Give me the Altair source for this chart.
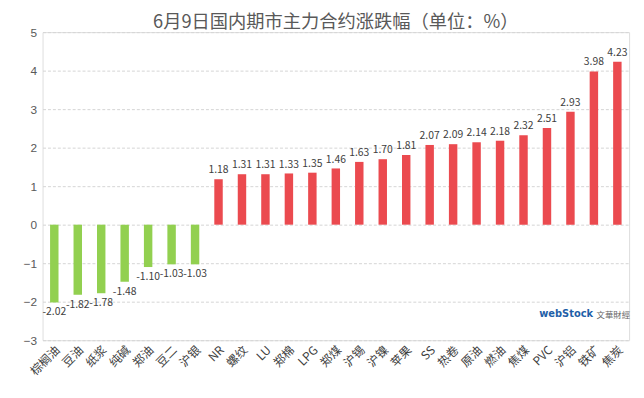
import altair as alt
import pandas as pd

categories = ["棕榈油", "豆油", "纸浆", "纯碱", "郑油", "豆二", "沪银", "NR", "螺纹", "LU",
              "郑棉", "LPG", "郑煤", "沪锡", "沪镍", "苹果", "SS", "热卷", "原油", "燃油",
              "焦煤", "PVC", "沪铝", "铁矿", "焦炭"]
values = [-2.02, -1.82, -1.78, -1.48, -1.10, -1.03, -1.03, 1.18, 1.31, 1.31,
          1.33, 1.35, 1.46, 1.63, 1.70, 1.81, 2.07, 2.09, 2.14, 2.18,
          2.32, 2.51, 2.93, 3.98, 4.23]
y_ticks = [-3, -2, -1, 0, 1, 2, 3, 4, 5]

df = pd.DataFrame({"cat": categories, "val": values})
df["label"] = df["val"].map(lambda v: f"{v:.2f}")
df["sign"] = df["val"].map(lambda v: "neg" if v < 0 else "pos")

font = "Noto Sans CJK SC"

x = alt.X("cat:N", sort=categories, title=None,
          scale=alt.Scale(paddingInner=0.64, paddingOuter=0.32),
          axis=alt.Axis(labelAngle=-45, labelFontSize=12, labelColor="#404040",
                        labelFont=font, domain=False, ticks=False, labelPadding=4))
y = alt.Y("val:Q", title=None,
          scale=alt.Scale(domain=[-3, 5], nice=False),
          axis=alt.Axis(values=y_ticks, labelFontSize=12, labelColor="#595959",
                        labelOverlap=False,
                        domain=False, ticks=False, grid=True, gridDash=[3, 2],
                        gridColor="#d4d4d4", labelPadding=6))

bars = alt.Chart(df).mark_bar().encode(
    x=x, y=y,
    color=alt.Color("sign:N", scale=alt.Scale(domain=["neg", "pos"],
                                               range=["#92D050", "#EB4A4F"]), legend=None),
)

pos_labels = alt.Chart(df).transform_filter("datum.val >= 0").mark_text(
    dy=-9, fontSize=10.5, color="#404040", font=font
).encode(x=x, y=y, text="label:N")

neg_labels = alt.Chart(df).transform_filter("datum.val < 0").mark_text(
    dy=10, fontSize=10.5, color="#404040", font=font
).encode(x=x, y=y, text="label:N")

logo1 = alt.Chart(pd.DataFrame({"t": ["webStock"]})).mark_text(
    fontSize=10, fontWeight="bold", color="#1F5FA8", align="left", font="DejaVu Sans"
).encode(x=alt.value(503), y=alt.value(286), text="t:N")
logo2 = alt.Chart(pd.DataFrame({"t": ["文華財經"]})).mark_text(
    fontSize=8.5, color="#666666", align="left", font=font
).encode(x=alt.value(561), y=alt.value(287), text="t:N")

chart = alt.layer(bars, pos_labels, neg_labels, logo1, logo2).properties(
    width=594, height=312,
    title=alt.Title("6月9日国内期市主力合约涨跌幅（单位：%）", fontSize=18.5,
                    color="#595959", font=font, fontWeight="normal", offset=-5),
    autosize=alt.AutoSizeParams(type="none"),
    padding={"left": 35, "top": 22, "right": 7, "bottom": 48},
).configure_view(stroke=None).configure(background="white")

chart.save("out.html", embed_options={"renderer": "svg", "actions": False})
